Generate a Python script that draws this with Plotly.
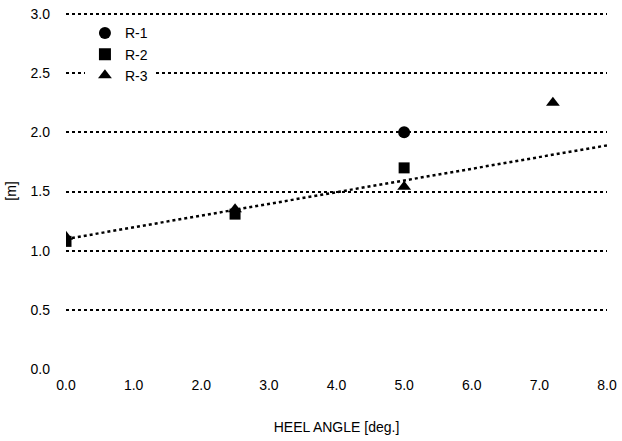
import plotly.graph_objects as go

r1_x = [5.0]
r1_y = [2.0]
r2_x = [0.0, 2.5, 5.0]
r2_y = [1.08, 1.31, 1.70]
r3_x = [0.0, 2.5, 5.0, 7.2]
r3_y = [1.12, 1.35, 1.54, 2.25]
trend_x = [0.0, 8.0]
trend_y = [1.10, 1.89]
x_ticks = [0, 1, 2, 3, 4, 5, 6, 7, 8]
y_ticks = [0, 0.5, 1.0, 1.5, 2.0, 2.5, 3.0]

font = "Liberation Sans"
fig = go.Figure()
fig.add_trace(go.Scatter(x=trend_x, y=trend_y, mode="lines", showlegend=False,
                         line=dict(color="black", width=2.5, dash="dot")))
fig.add_trace(go.Scatter(x=r1_x, y=r1_y, mode="markers", name="R-1",
                         marker=dict(symbol="circle", size=12, color="black")))
fig.add_trace(go.Scatter(x=r2_x, y=r2_y, mode="markers", name="R-2",
                         marker=dict(symbol="square", size=11, color="black")))
fig.add_trace(go.Scatter(x=r3_x, y=r3_y, mode="markers", name="R-3",
                         marker=dict(symbol="triangle-up", size=12, color="black")))

fig.update_layout(
    width=622, height=441,
    margin=dict(l=66, r=5, t=12, b=71),
    paper_bgcolor="white", plot_bgcolor="white",
    font=dict(family=font, size=14, color="black"),
    showlegend=True,
    legend=dict(x=0.035, y=0.985, xanchor="left", yanchor="top",
                bgcolor="white", font=dict(size=14),
                itemsizing="constant", tracegroupgap=0),
    xaxis=dict(range=[0, 8], tickvals=x_ticks,
               ticktext=[f"{v:.1f}" for v in x_ticks],
               showgrid=False, zeroline=False, showline=False, ticks="",
               ticklabelstandoff=5, ticklabeloverflow="allow",
               title=dict(text="HEEL ANGLE [deg.]", font=dict(size=14), standoff=30)),
    yaxis=dict(range=[-0.005, 3.015], tickvals=y_ticks,
               ticktext=[f"{v:.1f}" for v in y_ticks],
               showgrid=True, gridcolor="black", gridwidth=2, griddash="dot",
               zeroline=True, zerolinecolor="white", zerolinewidth=4,
               showline=False, ticks="", ticklabelstandoff=15,
               title=dict(text="[m]", font=dict(size=14), standoff=10)),
)

fig.write_html("out.html", config={"displayModeBar": False},
               post_script="document.body.style.margin='0px';document.body.style.overflow='hidden';")
